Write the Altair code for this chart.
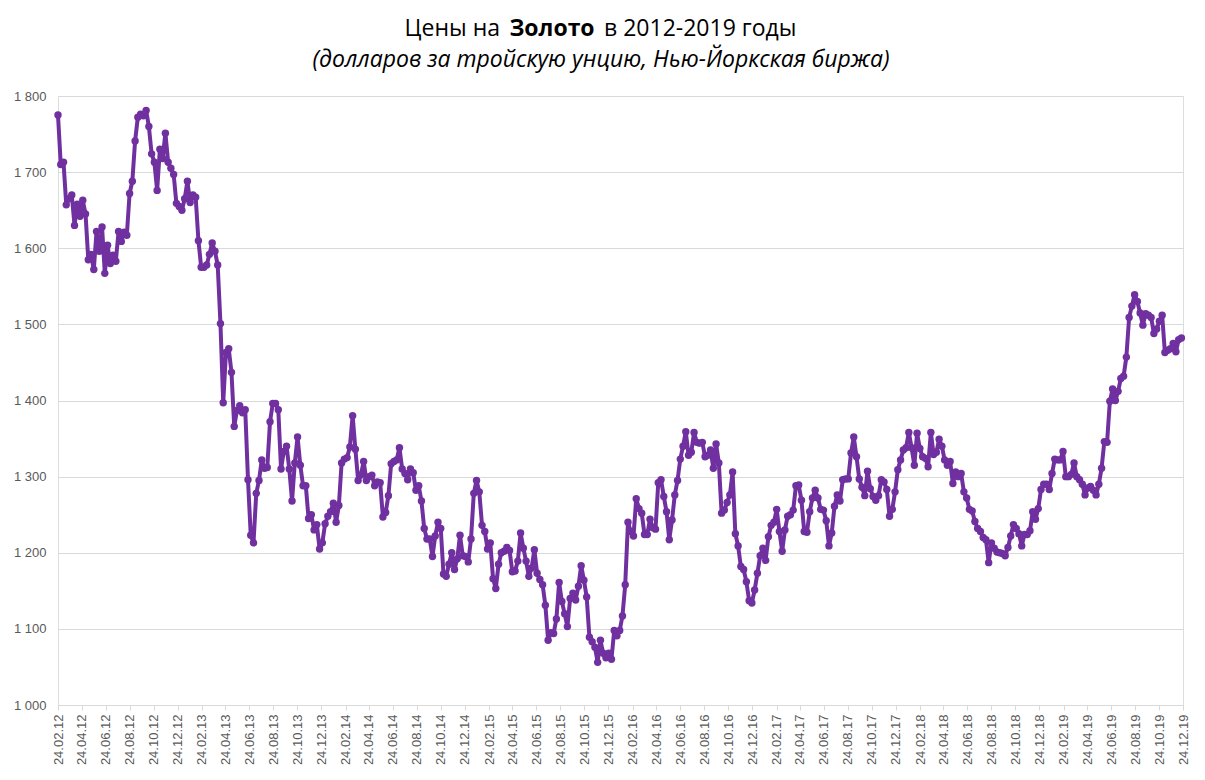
import altair as alt
import pandas as pd

# Weekly closing prices (USD per troy ounce)
prices_2012 = [1775, 1710, 1713, 1657, 1665, 1670, 1630, 1658, 1642,
               1663, 1645, 1585, 1592, 1572, 1622, 1596, 1628, 1567,
               1604, 1580, 1591, 1583, 1622, 1609, 1621, 1617,
               1672, 1688, 1741, 1772, 1776, 1774, 1781, 1760, 1724,
               1713, 1676, 1730, 1718, 1751, 1713, 1705, 1697, 1659,
               1655]
prices_2013 = [1650, 1665, 1688, 1660, 1670, 1667, 1610, 1575,
               1575, 1578, 1592, 1607, 1596, 1578, 1501, 1397,
               1463, 1468, 1437, 1366, 1387, 1393, 1384, 1388, 1296,
               1223, 1213, 1278, 1295, 1322, 1311, 1312, 1372, 1396,
               1396, 1388, 1310, 1333, 1340, 1310, 1268, 1318,
               1352, 1315, 1288, 1288, 1245, 1250, 1230, 1237, 1205,
               1213]
prices_2014 = [1238, 1248, 1254, 1265, 1240, 1262, 1318, 1323,
               1325, 1339, 1380, 1336, 1295, 1302, 1320, 1295,
               1300, 1302, 1288, 1293, 1292, 1247, 1253, 1275, 1317,
               1320, 1322, 1338, 1310, 1304, 1296, 1310, 1305, 1282,
               1288, 1268, 1232, 1218, 1218, 1195, 1222, 1240,
               1232, 1172, 1169, 1185, 1200, 1178, 1192, 1223, 1196,
               1195]
prices_2015 = [1188, 1218, 1278, 1295, 1280, 1236, 1228, 1205,
               1213, 1166, 1153, 1185, 1200, 1202, 1207, 1203,
               1175, 1176, 1189, 1226, 1206, 1189, 1169, 1180, 1204,
               1173, 1165, 1158, 1131, 1085, 1095, 1094, 1113, 1161,
               1136, 1120, 1103, 1140, 1147, 1138, 1156, 1183, 1164,
               1142, 1089, 1083, 1076, 1056, 1085, 1068, 1062,
               1068]
prices_2016 = [1060, 1098, 1091, 1098, 1117, 1158, 1240, 1228,
               1222, 1271, 1258, 1252, 1224, 1224, 1244, 1233, 1231,
               1292, 1296, 1274, 1254, 1217, 1243, 1276, 1295,
               1323, 1340, 1359, 1328, 1332, 1358, 1345, 1344, 1345,
               1326, 1328, 1335, 1311, 1343, 1318, 1252, 1256, 1266,
               1276, 1306, 1225, 1209, 1182, 1178, 1162, 1137, 1134,
               1151]
prices_2017 = [1173, 1196, 1206, 1190, 1221, 1236, 1240,
               1257, 1228, 1202, 1230, 1248, 1250, 1256, 1288, 1289,
               1269, 1228, 1227, 1254, 1272, 1282, 1272, 1257, 1256,
               1242, 1209, 1226, 1261, 1276, 1268, 1296, 1297,
               1297, 1331, 1352, 1326, 1297, 1286, 1275, 1307, 1284,
               1274, 1269, 1275, 1296, 1293, 1283, 1248, 1257, 1280,
               1309]
prices_2018 = [1322, 1335, 1338, 1358, 1338, 1315, 1357, 1337,
               1326, 1324, 1313, 1358, 1329, 1332, 1349, 1340,
               1322, 1315, 1320, 1291, 1306, 1300, 1304, 1280, 1272,
               1257, 1255, 1241, 1232, 1228, 1220, 1217, 1187,
               1213, 1206, 1201, 1200, 1199, 1196, 1207, 1222, 1237,
               1232, 1225, 1209, 1224, 1224, 1229, 1254, 1244, 1258,
               1283]
prices_2019 = [1290, 1290, 1283, 1304, 1323, 1322, 1322, 1333,
               1300, 1300, 1303, 1318, 1300, 1296, 1290, 1276,
               1285, 1287, 1282, 1276, 1290, 1311, 1346, 1345, 1399,
               1415, 1400, 1412, 1429, 1432, 1457, 1509, 1524, 1539,
               1530, 1515, 1499, 1514, 1512, 1509, 1488, 1494,
               1504, 1512, 1463, 1466, 1468, 1475, 1464, 1480, 1482]

prices = (prices_2012 + prices_2013 + prices_2014 + prices_2015 +
          prices_2016 + prices_2017 + prices_2018 + prices_2019)
dates = pd.date_range("2012-02-24", periods=len(prices), freq="7D")
df = pd.DataFrame({"date": dates.strftime("%Y-%m-%dT00:00:00"), "price": prices})

tick_years = list(range(2012, 2020))
tick_months = [2, 4, 6, 8, 10, 12]
y_ticks = list(range(1000, 1801, 100))

title_left = "Цены на"
title_bold = "Золото"
title_right = "в 2012-2019 годы"
subtitle = "(долларов за тройскую унцию, Нью-Йоркская биржа)"

PURPLE = "#7030A0"
GRID = "#D9D9D9"
LABEL = "#595959"
FONT = "Liberation Sans"
TFONT = "Open Sans"
TSIZE = 23

x_enc = alt.X(
    "date:T",
    title=None,
    scale=alt.Scale(domain=[alt.DateTime(year=2012, month=2, date=24),
                            alt.DateTime(year=2019, month=12, date=24)]),
    axis=alt.Axis(
        values=[alt.DateTime(year=y, month=m, date=24) for y in tick_years for m in tick_months],
        format="%d.%m.%y", labelAngle=-90, labelFont=FONT, labelFontSize=13,
        labelColor=LABEL, labelPadding=4, domainColor=GRID, tickColor=GRID,
        tickSize=5, grid=False, labelOverlap=False, labelFlush=False,
    ),
)
y_enc = alt.Y(
    "price:Q",
    title=None,
    scale=alt.Scale(domain=[1000, 1800], nice=False, zero=False),
    axis=alt.Axis(
        values=y_ticks, labelExpr="replace(format(datum.value, ','), ',', ' ')",
        labelFont=FONT, labelFontSize=13, labelColor=LABEL, labelPadding=12,
        domain=False, ticks=False, grid=True, gridColor=GRID, gridWidth=1,
    ),
)

base = alt.Chart(df)
line = base.mark_line(color=PURPLE, strokeWidth=4, strokeJoin="round").encode(x=x_enc, y=y_enc)
pts = base.mark_point(color=PURPLE, filled=True, opacity=1, size=55).encode(x=x_enc, y=y_enc)

t1 = alt.Chart(pd.DataFrame({"t": [title_left]})).mark_text(
    font=TFONT, fontSize=TSIZE, align="right", baseline="alphabetic", color="#000000"
).encode(text="t:N", x=alt.value(442), y=alt.value(-60))
t2 = alt.Chart(pd.DataFrame({"t": [title_bold]})).mark_text(
    font=TFONT, fontSize=TSIZE, fontWeight="bold", align="center", baseline="alphabetic", color="#000000"
).encode(text="t:N", x=alt.value(494), y=alt.value(-60))
t3 = alt.Chart(pd.DataFrame({"t": [title_right]})).mark_text(
    font=TFONT, fontSize=TSIZE, align="left", baseline="alphabetic", color="#000000"
).encode(text="t:N", x=alt.value(546), y=alt.value(-60))
t4 = alt.Chart(pd.DataFrame({"t": [subtitle]})).mark_text(
    font=TFONT, fontSize=TSIZE, fontStyle="italic", align="center", baseline="alphabetic", color="#000000"
).encode(text="t:N", x=alt.value(543), y=alt.value(-29))

chart = alt.layer(line, pts, t1, t2, t3, t4).properties(
    width=1125, height=609,
    autosize=alt.AutoSizeParams(type="none"),
    padding={"left": 50, "top": 88, "right": 14, "bottom": 70},
).configure_view(stroke=None).configure(background="white")

chart.save("out.html", embed_options={"renderer": "svg", "actions": False})
